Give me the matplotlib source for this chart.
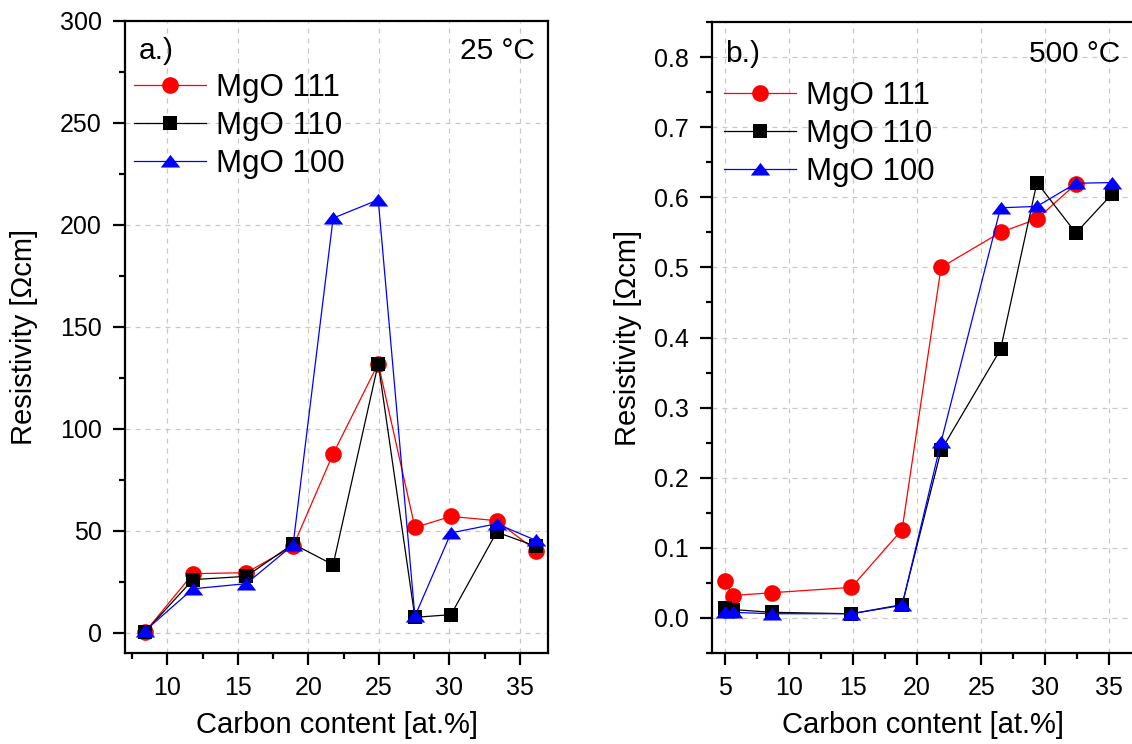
import matplotlib
matplotlib.use("Agg")
import matplotlib.pyplot as plt
from matplotlib.ticker import MultipleLocator, FormatStrFormatter

plt.rcParams['font.family'] = ['Liberation Sans', 'DejaVu Sans']

# ---- Data: panel a (25 °C) ----
carbon_a = [8.44, 11.82, 15.6, 18.92, 21.76, 24.96, 27.56, 30.12, 33.36, 36.16]
mgo111_a = [0.5, 28.9, 29.4, 42.3, 87.7, 132.0, 51.6, 57.0, 54.9, 40.2]
mgo110_a = [0.5, 26.0, 27.6, 43.5, 33.3, 132.0, 7.5, 8.8, 49.3, 42.3]
mgo100_a = [1.0, 21.5, 24.0, 43.0, 203.3, 212.3, 8.0, 48.9, 53.4, 45.2]

# ---- Data: panel b (500 °C) ----
carbon_b111 = [5.0, 5.62, 8.69, 14.88, 18.83, 21.87, 26.51, 29.35, 32.39]
mgo111_b = [0.053, 0.032, 0.036, 0.0436, 0.126, 0.500, 0.550, 0.569, 0.619]
carbon_b = [5.0, 5.62, 8.69, 14.88, 18.83, 21.87, 26.51, 29.35, 32.39, 35.22]
mgo110_b = [0.014, 0.012, 0.008, 0.006, 0.019, 0.239, 0.383, 0.621, 0.549, 0.605]
mgo100_b = [0.008, 0.008, 0.006, 0.006, 0.018, 0.251, 0.585, 0.587, 0.620, 0.621]

labels = ["MgO 111", "MgO 110", "MgO 100"]

W, H = 1132, 744
fig = plt.figure(figsize=(W / 100, H / 100), dpi=100)

def px_axes(x0, y0, x1, y1):
    return fig.add_axes([x0 / W, 1 - y1 / H, (x1 - x0) / W, (y1 - y0) / H])

ax1 = px_axes(125, 21, 548, 653)
ax2 = px_axes(712, 22, 1135, 653)

tick_fs = 18
label_fs = 21
note_fs = 21.5
leg_fs = 22.5

# wide, flat triangle like the reference
tri = [(-1, -0.62), (1, -0.62), (0, 0.68), (-1, -0.62)]

def style(ax):
    for s in ax.spines.values():
        s.set_linewidth(1.6)
    ax.tick_params(which='major', direction='out', length=8.6, width=1.6,
                   labelsize=tick_fs, pad=8)
    ax.tick_params(which='minor', direction='out', length=4.5, width=1.6)
    ax.grid(True, which='major', color='#c8c8c8', linestyle=(0, (4, 4)), linewidth=0.9)
    ax.set_axisbelow(True)

def plot_series(ax, xs, ys, color, marker, ms):
    return ax.plot(xs, ys, color=color, marker=marker, markersize=ms, linewidth=0.9,
                   markeredgewidth=0, markerfacecolor=color)[0]

def add_legend(ax, handles, x, ymid):
    ax.legend(handles, labels, loc='center left', bbox_to_anchor=(x, ymid),
              frameon=False, fontsize=leg_fs, handlelength=2.3, handletextpad=0.32,
              labelspacing=0.26, borderaxespad=0, borderpad=0)

# Panel a
l1 = plot_series(ax1, carbon_a, mgo111_a, '#ff0000', 'o', 12)
l2 = plot_series(ax1, carbon_a, mgo110_a, '#000000', 's', 9.6)
l3 = plot_series(ax1, carbon_a, mgo100_a, '#0000ff', tri, 14)
ax1.set_xlim(7, 37)
ax1.set_ylim(-10, 300)
ax1.xaxis.set_major_locator(MultipleLocator(5))
ax1.xaxis.set_minor_locator(MultipleLocator(2.5))
ax1.yaxis.set_major_locator(MultipleLocator(50))
ax1.yaxis.set_minor_locator(MultipleLocator(25))
style(ax1)
ax1.set_xlabel("Carbon content [at.%]", fontsize=label_fs, labelpad=8)
ax1.set_ylabel("Resistivity [Ωcm]", fontsize=label_fs, labelpad=16)
ax1.text(0.032, 0.953, "a.)", transform=ax1.transAxes, fontsize=note_fs, va='center', ha='left')
ax1.text(0.97, 0.953, "25 °C", transform=ax1.transAxes, fontsize=note_fs, va='center', ha='right')
add_legend(ax1, [l1, l2, l3], 0.021, 0.834)

# Panel b
r1 = plot_series(ax2, carbon_b111, mgo111_b, '#ff0000', 'o', 12)
r2 = plot_series(ax2, carbon_b, mgo110_b, '#000000', 's', 9.6)
r3 = plot_series(ax2, carbon_b, mgo100_b, '#0000ff', tri, 14)
ax2.set_xlim(4, 37)
ax2.set_ylim(-0.05, 0.85)
ax2.xaxis.set_major_locator(MultipleLocator(5))
ax2.xaxis.set_minor_locator(MultipleLocator(2.5))
ax2.yaxis.set_major_locator(MultipleLocator(0.1))
ax2.yaxis.set_minor_locator(MultipleLocator(0.05))
ax2.yaxis.set_major_formatter(FormatStrFormatter('%.1f'))
style(ax2)
ax2.set_xlabel("Carbon content [at.%]", fontsize=label_fs, labelpad=8)
ax2.set_ylabel("Resistivity [Ωcm]", fontsize=label_fs, labelpad=9)
ax2.text(0.03, 0.95, "b.)", transform=ax2.transAxes, fontsize=note_fs, va='center', ha='left')
ax2.text(0.965, 0.95, "500 °C", transform=ax2.transAxes, fontsize=note_fs, va='center', ha='right')
add_legend(ax2, [r1, r2, r3], 0.028, 0.823)

fig.savefig("out.png", dpi=100)
